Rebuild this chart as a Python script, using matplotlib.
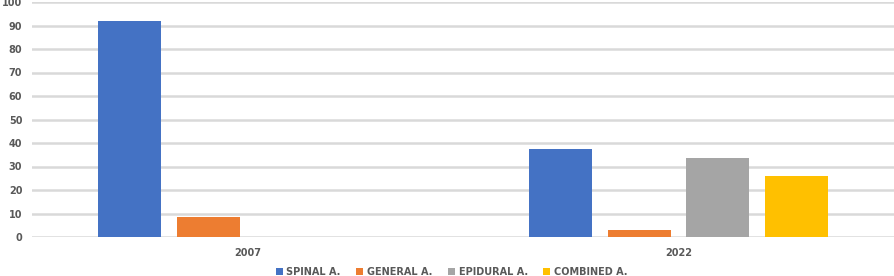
import matplotlib
matplotlib.use("Agg")
import matplotlib.pyplot as plt
import numpy as np

categories = ["2007", "2022"]
series_names = ["SPINAL A.", "GENERAL A.", "EPIDURAL A.", "COMBINED A."]
spinal = [92, 37.5]
general = [8.5, 3]
epidural = [0, 33.5]
combined = [0, 26]
colors = ["#4472C4", "#ED7D31", "#A5A5A5", "#FFC000"]
yticks = [0, 10, 20, 30, 40, 50, 60, 70, 80, 90, 100]

fig = plt.figure(figsize=(8.94, 2.76), dpi=100)
ax = fig.add_axes([32/894, 1-237/276, 1-32/894, (237-2)/276])

x = np.arange(len(categories))
width = 0.146
step = 0.182
for i, (vals, name) in enumerate(zip([spinal, general, epidural, combined], series_names)):
    ax.bar(x + (i - 1.5) * step, vals, width, color=colors[i], label=name, zorder=3)

ax.set_xlim(-0.5, 1.5)
ax.set_ylim(0, 100)
ax.set_yticks(yticks)
ax.set_xticks(x)
ax.set_xticklabels(categories)
ax.grid(axis="y", color="#d9d9d9", linewidth=1.8, zorder=0)
for s in ax.spines.values():
    s.set_visible(False)
ax.tick_params(axis="both", length=0, labelsize=7, labelcolor="#595959")
ax.tick_params(axis="y", pad=7)
ax.tick_params(axis="x", pad=8)
for lbl in ax.get_xticklabels() + ax.get_yticklabels():
    lbl.set_fontweight("bold")

leg = fig.legend(loc="lower center", bbox_to_anchor=(0.505, -0.035), ncol=4, frameon=False,
                 prop={"size": 7, "weight": "bold"}, handlelength=0.75, handleheight=0.75,
                 columnspacing=1.6, handletextpad=0.35)
for t in leg.get_texts():
    t.set_color("#595959")

fig.savefig("out.png", dpi=100)
